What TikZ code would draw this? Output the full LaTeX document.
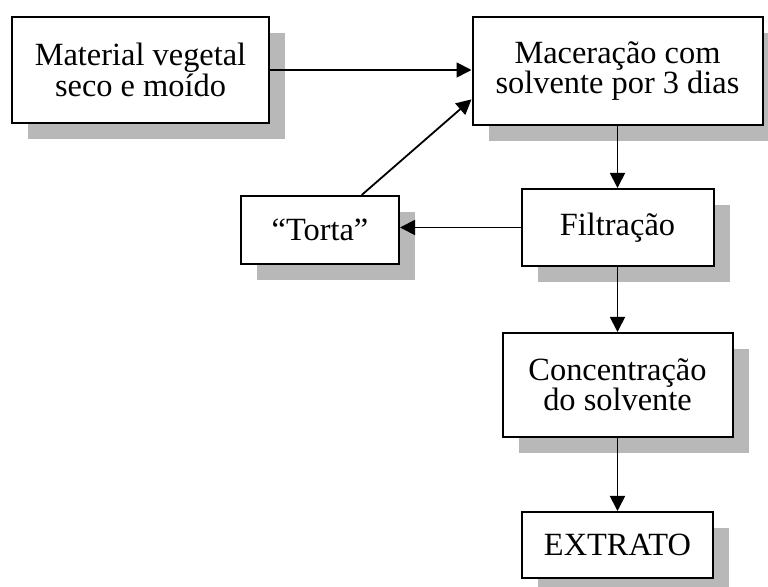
\documentclass[tikz,border=0pt]{standalone}
\usepackage{fontspec}
\setmainfont{Liberation Serif}
\usepackage{tikz}
\usetikzlibrary{arrows.meta,shadows}

\begin{document}
\begin{tikzpicture}[x=0.5pt, y=-0.5pt,
    box/.style={draw, line width=1pt, fill=white, align=center, inner sep=0pt,
      font=\fontsize{16.2}{15.2}\selectfont,
      drop shadow={shadow xshift=8pt, shadow yshift=-8pt, opacity=1, fill=black!28}},
    arr/.style={line width=0.9pt, -{Triangle[length=7.5pt,width=7.5pt]}}]
    \useasboundingbox (0,0) rectangle (768,587);
    % boxes
    \node[box, minimum width=128.5pt, minimum height=53pt] (mat) at (140.5,70) {Material vegetal\\seco e moído};
    \node[box, minimum width=145pt, minimum height=54pt] (mac) at (617.5,71) {Maceração com\\solvente por 3 dias};
    \node[box, minimum width=79pt, minimum height=34pt] (torta) at (320,230) {“Torta”};
    \node[box, minimum width=96pt, minimum height=38.5pt] (filt) at (617.5,227.5) {Filtração};
    \node[box, minimum width=115pt, minimum height=52pt] (conc) at (617.5,385) {Concentração\\do solvente};
    \node[box, minimum width=95.5pt, minimum height=33pt] (ext) at (617.5,545) {EXTRATO};
    % arrows
    \draw[arr] (mat.east) -- (mat.east -| mac.west);
    \draw[arr] (torta.40) -- (mac.191);
    \draw[arr] (mac.south) -- (filt.north);
    \draw[arr] (filt.west) -- (filt.west -| torta.east);
    \draw[arr] (filt.south) -- (conc.north);
    \draw[arr] (conc.south) -- (ext.north);
\end{tikzpicture}
\end{document}
